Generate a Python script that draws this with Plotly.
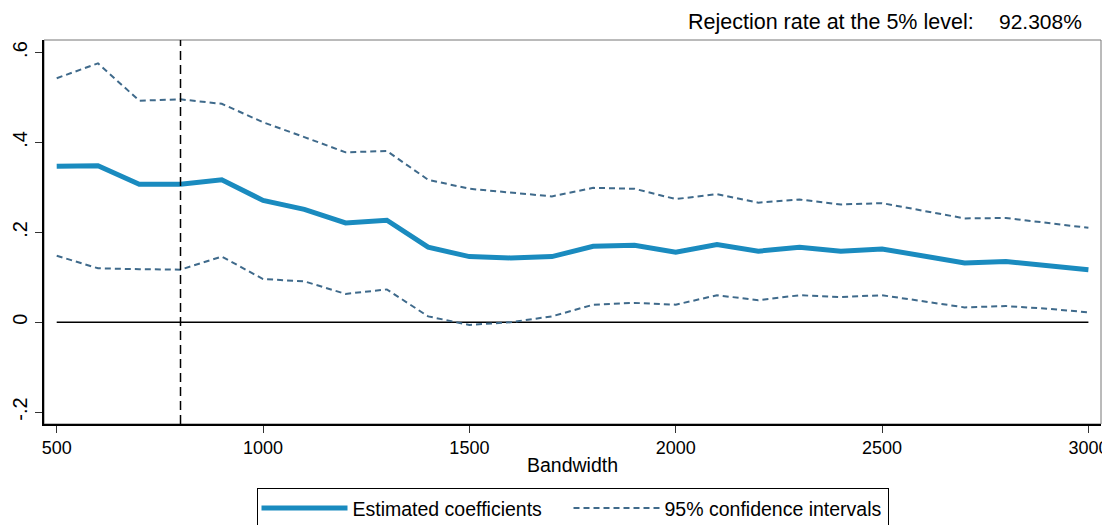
import plotly.graph_objects as go

# Bandwidth grid and estimates
bandwidth = [500, 600, 700, 800, 900, 1000, 1100, 1200, 1300, 1400, 1500, 1600, 1700,
             1800, 1900, 2000, 2100, 2200, 2300, 2400, 2500, 2600, 2700, 2800, 2900, 3000]
coef = [0.347, 0.348, 0.307, 0.307, 0.317, 0.271, 0.251, 0.221, 0.227, 0.167, 0.146, 0.143, 0.146,
        0.169, 0.171, 0.156, 0.173, 0.158, 0.167, 0.158, 0.163, 0.147, 0.132, 0.135, 0.126, 0.117]
ci_upper = [0.543, 0.576, 0.493, 0.496, 0.486, 0.445, 0.412, 0.378, 0.381, 0.317, 0.297, 0.288, 0.280,
            0.299, 0.297, 0.274, 0.285, 0.266, 0.273, 0.262, 0.265, 0.248, 0.231, 0.232, 0.221, 0.210]
ci_lower = [0.148, 0.120, 0.118, 0.117, 0.146, 0.096, 0.091, 0.063, 0.073, 0.013, -0.006, 0.000, 0.013,
            0.039, 0.043, 0.039, 0.060, 0.049, 0.060, 0.056, 0.060, 0.047, 0.033, 0.036, 0.030, 0.022]
chosen_bw = 800
rejection_rate = "92.308%"

y_ticks = [-0.2, 0, 0.2, 0.4, 0.6]
y_ticktext = ["-.2", "0", ".2", ".4", ".6"]
x_ticks = [500, 1000, 1500, 2000, 2500, 3000]

BLUE = "#1a8bbf"
SLATE = "#3f6a8b"
FONT = "Liberation Sans, Arial, sans-serif"

fig = go.Figure()

# zero reference line
fig.add_trace(go.Scatter(
    x=[bandwidth[0], bandwidth[-1]], y=[0, 0], mode="lines",
    line=dict(color="black", width=1.5), showlegend=False, hoverinfo="skip",
))

fig.add_trace(go.Scatter(
    x=bandwidth, y=coef, mode="lines", name="Estimated coefficients&nbsp;&nbsp;&nbsp;&nbsp;",
    line=dict(color=BLUE, width=5),
))
fig.add_trace(go.Scatter(
    x=bandwidth, y=ci_upper, mode="lines", name="95% confidence intervals",
    line=dict(color=SLATE, width=2, dash="6px,4px"), legendgroup="ci",
))
fig.add_trace(go.Scatter(
    x=bandwidth, y=ci_lower, mode="lines", name="95% confidence intervals",
    line=dict(color=SLATE, width=2, dash="6px,4px"), legendgroup="ci", showlegend=False,
))

# optimal bandwidth marker
fig.add_vline(x=chosen_bw, line=dict(color="black", width=1.5, dash="9px,5px"))

# thin grey frame on top/right like Stata's plot region
fig.add_shape(type="rect", xref="paper", yref="paper", x0=0, y0=0, x1=1, y1=1,
              line=dict(color="#777777", width=1), layer="below")

fig.add_annotation(xref="paper", yref="paper", x=0.882, y=1.047, xanchor="right", yanchor="middle",
                   text="Rejection rate at the 5% level:", showarrow=False,
                   font=dict(size=21.5, color="black", family=FONT))
fig.add_annotation(xref="paper", yref="paper", x=0.984, y=1.047, xanchor="right", yanchor="middle",
                   text=rejection_rate, showarrow=False,
                   font=dict(size=21, color="black", family=FONT))

fig.update_xaxes(
    range=[469.2, 3030.5], tickvals=x_ticks, ticks="outside", ticklen=7, tickcolor="#333",
    showline=True, linecolor="black", linewidth=1.5, showgrid=False, zeroline=False,
    title=dict(text="Bandwidth", font=dict(size=19.5, color="black"), standoff=1),
    tickfont=dict(size=18, color="black"), automargin=False, ticklabeloverflow="allow",
)
fig.update_yaxes(
    range=[-0.2265, 0.628], tickvals=y_ticks, ticktext=y_ticktext, tickangle=-90,
    ticks="outside", ticklen=7, tickcolor="#333",
    showline=True, linecolor="black", linewidth=1.5, showgrid=False, zeroline=False,
    tickfont=dict(size=20, color="black"), automargin=False,
)

# page body adds an 8px offset, so the figure is sized/margined to compensate
fig.update_layout(
    width=1102, height=517,
    margin=dict(l=36, r=9, t=32, b=101, autoexpand=False),
    plot_bgcolor="white", paper_bgcolor="white",
    font=dict(family=FONT, size=19, color="black"),
    legend=dict(
        orientation="h", x=0.5, xanchor="center", y=-0.166, yanchor="top",
        bordercolor="black", borderwidth=1, bgcolor="white",
        font=dict(size=19.5), itemwidth=86,
    ),
)

fig.write_html("out.html")
